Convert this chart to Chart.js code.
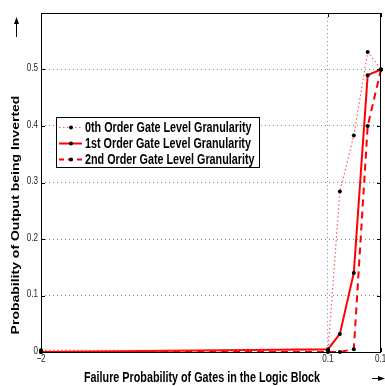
<!DOCTYPE html>
<html>
<head>
<meta charset="utf-8">
<script src="https://cdn.jsdelivr.net/npm/chart.js@4"></script>
<style>
  html, body { margin: 0; padding: 0; background: #fff; overflow: hidden; }
  #wrap { width: 385px; height: 386px; }
</style>
</head>
<body>
<div id="wrap"><canvas id="gran" width="385" height="386"></canvas></div>
<script>
// failure probability of the gates (log axis)
const failProb = [0.01, 0.1, 0.11, 0.123, 0.1375, 0.153];
// probability that the block output is inverted
const order0 = [0.003, 0.003, 0.284, 0.383, 0.531, 0.5];
const order1 = [0, 0.005, 0.032, 0.14, 0.49, 0.5];
const order2 = [0, 0, 0, 0.005, 0.40, 0.5];

const seriesNames = [
  "0th Order Gate Level Granularity",
  "1st Order Gate Level Granularity",
  "2nd Order Gate Level Granularity",
];
const xTickValues = [0.01, 0.1, 0.153];
const xTickLabels = ["\u22122", "0.1", "0.15"];
const yTickValues = [0, 0.1, 0.2, 0.3, 0.4, 0.5, 0.6];
const yTickLabels = ["0", "0.1", "0.2", "0.3", "0.4", "0.5", ""];

const FONT = "'Liberation Sans', Arial, Helvetica, sans-serif";
const RED = "#ff0000";
const SQUEEZE = 0.77; // narrow lettering, as in the printed figure

const lineStyles = [
  { color: "rgba(255,60,60,0.85)", width: 1.2, dash: [1.5, 2.5] },
  { color: RED, width: 2, dash: [] },
  { color: RED, width: 2, dash: [7, 5] },
];

function toPoints(ys) {
  return failProb.map((x, i) => ({ x: x, y: ys[i] }));
}

function makeSet(i, ys) {
  const s = lineStyles[i];
  return {
    label: seriesNames[i],
    data: toPoints(ys),
    showLine: true,
    borderColor: s.color,
    borderWidth: s.width,
    borderDash: s.dash,
    pointRadius: 2,
    pointBackgroundColor: "#000",
    pointBorderColor: "#000",
    pointBorderWidth: 0,
    clip: false,
    tension: 0,
  };
}

// text narrowed horizontally around its anchor
function narrowText(ctx, text, x, y, align) {
  ctx.save();
  ctx.translate(x, y);
  ctx.scale(SQUEEZE, 1);
  ctx.textAlign = align;
  ctx.fillText(text, 0, 0);
  ctx.restore();
}

// frame, inside ticks, tick labels, axis titles and the boxed legend
const decorations = {
  id: "decorations",
  afterDatasetsDraw(chart) {
    const { ctx, chartArea: a, scales } = chart;
    ctx.save();
    ctx.strokeStyle = "#000";
    ctx.lineWidth = 1;
    ctx.setLineDash([]);
    ctx.strokeRect(a.left + 0.5, a.top + 0.5, a.right - a.left - 1, a.bottom - a.top);

    // ticks pointing into the plot
    ctx.beginPath();
    yTickValues.forEach(v => {
      const y = Math.round(scales.y.getPixelForValue(v)) + 0.5;
      ctx.moveTo(a.left, y); ctx.lineTo(a.left + 4, y);
      ctx.moveTo(a.right, y); ctx.lineTo(a.right - 4, y);
    });
    xTickValues.forEach(v => {
      const x = Math.round(scales.x.getPixelForValue(v)) + 0.5;
      ctx.moveTo(x, a.bottom); ctx.lineTo(x, a.bottom - 4);
      ctx.moveTo(x, a.top); ctx.lineTo(x, a.top + 4);
    });
    ctx.stroke();

    // tick labels
    ctx.fillStyle = "#222";
    ctx.font = "10.5px " + FONT;
    ctx.textBaseline = "middle";
    yTickValues.forEach((v, i) => {
      narrowText(ctx, yTickLabels[i], a.left - 3, scales.y.getPixelForValue(v) - 1, "right");
    });
    xTickValues.forEach((v, i) => {
      const x = scales.x.getPixelForValue(v);
      const last = i === xTickValues.length - 1;
      narrowText(ctx, xTickLabels[i], last ? x - 6 : x, a.bottom + 7, last ? "left" : "center");
    });

    // legend
    const lx = 56, ly = 117, lw = 203, lh = 50;
    ctx.fillStyle = "#fff";
    ctx.fillRect(lx, ly, lw, lh);
    ctx.strokeStyle = "#000";
    ctx.strokeRect(lx + 0.5, ly + 0.5, lw, lh);
    ctx.font = "bold 14px " + FONT;
    ctx.textBaseline = "middle";
    const rows = [127.5, 143.5, 159.5];
    lineStyles.forEach((s, i) => {
      const y = rows[i];
      ctx.strokeStyle = s.color;
      ctx.lineWidth = s.width;
      ctx.setLineDash(i === 2 ? [5, 4] : s.dash);
      ctx.beginPath();
      ctx.moveTo(59, y); ctx.lineTo(82, y);
      ctx.stroke();
      ctx.setLineDash([]);
      ctx.fillStyle = "#000";
      ctx.beginPath();
      ctx.arc(71, y, 2, 0, Math.PI * 2);
      ctx.fill();
      narrowText(ctx, seriesNames[i], 85, y + 0.5, "left");
    });

    // axis titles
    ctx.fillStyle = "#000";
    ctx.font = "bold 14px " + FONT;
    ctx.textBaseline = "middle";
    narrowText(ctx, "Failure Probability of Gates in the Logic Block", 202, 378, "center");
    ctx.save();
    ctx.translate(16, 215);
    ctx.scale(SQUEEZE, 1);
    ctx.rotate(-Math.PI / 2);
    ctx.textAlign = "center";
    ctx.fillText("Probability of Output being Inverted", 0, 0);
    ctx.restore();

    // arrows after the titles
    ctx.strokeStyle = "#000";
    ctx.lineWidth = 1;
    ctx.beginPath();
    ctx.moveTo(16.5, 37); ctx.lineTo(16.5, 21);
    ctx.moveTo(372, 378.5); ctx.lineTo(381, 378.5);
    ctx.stroke();
    ctx.beginPath();
    ctx.moveTo(16.5, 17); ctx.lineTo(14, 24); ctx.lineTo(19, 24); ctx.closePath();
    ctx.moveTo(385, 378.5); ctx.lineTo(378, 376); ctx.lineTo(378, 381); ctx.closePath();
    ctx.fill();
    ctx.restore();
  },
};

new Chart(document.getElementById("gran"), {
  type: "scatter",
  data: {
    datasets: [makeSet(0, order0), makeSet(1, order1), makeSet(2, order2)],
  },
  options: {
    responsive: false,
    animation: false,
    devicePixelRatio: 1,
    layout: { padding: { top: 13, right: 1, left: 0, bottom: 0 } },
    plugins: {
      legend: { display: false },
      tooltip: { enabled: false },
    },
    scales: {
      x: {
        type: "logarithmic",
        min: 0.01,
        max: 0.153,
        afterBuildTicks(s) {
          s.ticks = xTickValues.map(v => ({ value: v }));
        },
        afterFit(s) {
          s.height = 34;
          s.paddingLeft = 0;
          s.paddingRight = 0;
        },
        ticks: { display: false, autoSkip: false },
        grid: {
          drawTicks: false,
          color: ctx => (ctx.tick && ctx.tick.value === 0.1 ? "#888" : "rgba(0,0,0,0)"),
        },
        border: { display: false, dash: [1, 3] },
      },
      y: {
        min: 0,
        max: 0.6,
        afterBuildTicks(s) {
          s.ticks = yTickValues.map(v => ({ value: v }));
        },
        afterFit(s) {
          s.width = 41;
          s.paddingTop = 0;
          s.paddingBottom = 0;
        },
        ticks: { display: false },
        grid: {
          drawTicks: false,
          color: ctx => (ctx.tick && ctx.tick.value > 0 && ctx.tick.value < 0.6 ? "#888" : "rgba(0,0,0,0)"),
        },
        border: { display: false, dash: [1, 3] },
      },
    },
  },
  plugins: [decorations],
});
</script>
</body>
</html>
